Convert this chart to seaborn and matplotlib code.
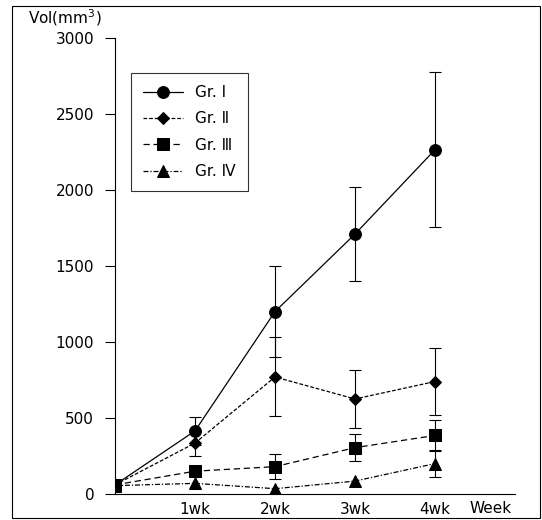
import matplotlib
matplotlib.use("Agg")
import matplotlib.pyplot as plt
import seaborn as sns
import numpy as np
from matplotlib.patches import Rectangle

weeks = [0, 1, 2, 3, 4]
tick_labels = ["1wk", "2wk", "3wk", "4wk"]
groups = ["Gr. Ⅰ", "Gr. Ⅱ", "Gr. Ⅲ", "Gr. Ⅳ"]
gr1 = [60, 415, 1200, 1710, 2265]
gr1_err = [0, 90, 300, 310, 510]
gr2 = [60, 335, 770, 625, 740]
gr2_err = [0, 85, 260, 190, 220]
gr3 = [60, 150, 180, 305, 385]
gr3_err = [0, 0, 80, 90, 100]
gr4 = [55, 70, 35, 85, 200]
gr4_err = [0, 0, 0, 0, 90]

sns.set_theme(style="white")
plt.rcParams['font.family'] = ['DejaVu Sans']
plt.rcParams['text.color'] = 'black'
plt.rcParams['xtick.color'] = 'black'
plt.rcParams['ytick.color'] = 'black'

fig = plt.figure(figsize=(5.42, 5.2), dpi=100)
ax = fig.add_axes([115/542, 1-494/520, 400/542, 456/520])

series = [(gr1, gr1_err, 'o', '-', 8.5), (gr2, gr2_err, 'D', (0, (3, 1.5)), 6),
          (gr3, gr3_err, 's', (0, (5, 3)), 8), (gr4, gr4_err, '^', (0, (4, 1.5, 1, 1.5)), 8)]

for name, (vals, errs, mk, ls, ms) in zip(groups, series):
    sns.lineplot(x=weeks, y=vals, ax=ax, color='black', marker=mk, markersize=ms,
                 linestyle=ls, linewidth=0.9, markeredgecolor='black', label=name)
    xs = [w for w, e in zip(weeks, errs) if e > 0]
    ys = [v for v, e in zip(vals, errs) if e > 0]
    es = [e for e in errs if e > 0]
    if xs:
        ax.errorbar(xs, ys, yerr=es, fmt='none', ecolor='black', elinewidth=0.8,
                    capsize=4, capthick=0.8)

ax.set_xlim(0, 5)
ax.set_ylim(0, 3000)
ax.set_yticks([0, 500, 1000, 1500, 2000, 2500, 3000])
ax.set_yticklabels(["0", "500", "1000", "1500", "2000", "2500", "3000"], fontsize=11, color='black')
ax.set_xticks([1, 2, 3, 4])
ax.set_xticklabels(tick_labels, fontsize=11, color='black')
ax.tick_params(axis='y', direction='out', length=7, width=0.8, left=True, pad=8, colors='black')
ax.tick_params(axis='x', length=0, pad=6, colors='black')
ax.set_xlabel("")
ax.set_ylabel("")
for s in ['top', 'right']:
    ax.spines[s].set_visible(False)
for s in ['left', 'bottom']:
    ax.spines[s].set_color('black')
    ax.spines[s].set_linewidth(0.8)

ax.text(4.69, -95, "Week", ha='center', va='center', fontsize=11, color='black')
fig.text(65/542, 1-18/520, "Vol(mm$^3$)", ha='center', va='center', fontsize=11, color='black')

leg = ax.legend(loc='upper left', bbox_to_anchor=(8/400, 1-27/456), frameon=True,
                fancybox=False, edgecolor='black', fontsize=11, handlelength=2.6,
                labelspacing=0.75, borderpad=0.8)
leg.get_frame().set_linewidth(0.8)
for t in leg.get_texts():
    t.set_color('black')

fig.patches.append(Rectangle((12/542, 2/520), 528/542, 512/520, transform=fig.transFigure,
                             fill=False, edgecolor='black', linewidth=0.8))

fig.savefig("out.png", dpi=100)
